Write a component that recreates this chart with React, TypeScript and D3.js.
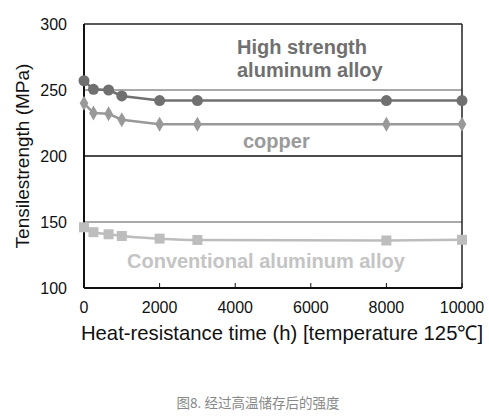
import React from 'react';
import * as d3 from 'd3';

// hours of heat exposure
const hours = [0, 250, 650, 1000, 2000, 3000, 8000, 10000];
// tensile strength (MPa)
const highStrength = [257, 250.5, 250, 245.5, 242, 242, 242, 242];
const copper = [240, 232.5, 232, 227.5, 224, 224, 224, 224];
const conventional = [146, 142.3, 140.7, 139.4, 137.4, 136.4, 136, 136.5];

const xTicks = [0, 2000, 4000, 6000, 8000, 10000];
const yTicks = [100, 150, 200, 250, 300];

const W = 489;
const H = 420;
const margin = { top: 24, right: 27, bottom: 132, left: 84 };
const font = '"Liberation Sans", Arial, sans-serif';

export default function App() {
  const x = d3.scaleLinear().domain([0, 10000]).range([margin.left, W - margin.right]);
  const y = d3.scaleLinear().domain([100, 300]).range([H - margin.bottom, margin.top]);

  const line = d3.line<[number, number]>().x(d => x(d[0])).y(d => y(d[1]));
  const smooth = d3.line<[number, number]>().x(d => x(d[0])).y(d => y(d[1])).curve(d3.curveMonotoneX);

  const pts = (vals: number[]) => hours.map((h, i) => [h, vals[i]] as [number, number]);
  const diamond = d3.symbol(d3.symbolDiamond, 65)();

  const x0 = x(0), x1 = x(10000), yb = y(100), yt = y(300);

  return (
    <svg width={W} height={H} style={{ position: 'absolute', left: 0, top: 0 }}>
      <rect width={W} height={H} fill="#fff" />

      {/* grid lines */}
      <line x1={x0} x2={x1} y1={y(250)} y2={y(250)} stroke="#555" strokeWidth={1} />
      <line x1={x0} x2={x1} y1={y(200)} y2={y(200)} stroke="#111" strokeWidth={1.3} />
      <line x1={x0} x2={x1} y1={y(150)} y2={y(150)} stroke="#555" strokeWidth={1} />
      {/* frame */}
      <line x1={x0} x2={x1} y1={yt} y2={yt} stroke="#222" strokeWidth={1.5} />
      <line x1={x1} x2={x1} y1={yt} y2={yb} stroke="#222" strokeWidth={1.5} />
      <line x1={x0} x2={x1} y1={yb} y2={yb} stroke="#111" strokeWidth={2} />
      <line x1={x0} x2={x0} y1={yt} y2={yb} stroke="#111" strokeWidth={2} />

      {/* x ticks */}
      {xTicks.map(t => (
        <g key={t}>
          <line x1={x(t)} x2={x(t)} y1={yb} y2={yb - 5} stroke="#111" strokeWidth={1} />
          <text x={x(t)} y={yb + 25} textAnchor="middle" fontFamily={font} fontSize={16} fill="#111">{t}</text>
        </g>
      ))}
      {yTicks.map(t => (
        <text key={t} x={x0 - 17} y={y(t) + 6} textAnchor="end" fontFamily={font} fontSize={16} fill="#111">{t}</text>
      ))}

      {/* series */}
      <path d={smooth(pts(conventional)) || ''} fill="none" stroke="#bdbdbd" strokeWidth={2.5} />
      {pts(conventional).map((p, i) => (
        <rect key={i} x={x(p[0]) - 5} y={y(p[1]) - 5} width={10} height={10} fill="#bdbdbd" />
      ))}

      <path d={line(pts(copper)) || ''} fill="none" stroke="#999" strokeWidth={2.5} />
      {pts(copper).map((p, i) => (
        <path key={i} d={diamond || ''} transform={`translate(${x(p[0])},${y(p[1])})`} fill="#999" />
      ))}

      <path d={line(pts(highStrength)) || ''} fill="none" stroke="#707070" strokeWidth={2.5} />
      {pts(highStrength).map((p, i) => (
        <circle key={i} cx={x(p[0])} cy={y(p[1])} r={5.5} fill="#707070" />
      ))}

      {/* series labels */}
      <text x={237} y={54} fontFamily={font} fontSize={20} fontWeight="bold" fill="#707070">High strength</text>
      <text x={237} y={77} fontFamily={font} fontSize={20} fontWeight="bold" fill="#707070">aluminum alloy</text>
      <text x={243} y={148} fontFamily={font} fontSize={20} fontWeight="bold" fill="#9a9a9a">copper</text>
      <text x={127} y={268} fontFamily={font} fontSize={20} fontWeight="bold" fill="#c4c4c4">Conventional aluminum alloy</text>

      {/* axis titles */}
      <text transform={`translate(29,${(yt + yb) / 2}) rotate(-90)`} textAnchor="middle" fontFamily={font} fontSize={19} fill="#111">Tensilestrength (MPa)</text>
      <text x={282} y={340} textAnchor="middle" fontFamily={font} fontSize={20.3} fill="#111">Heat-resistance time (h) [temperature 125℃]</text>

      {/* caption */}
      <text x={258} y={408} textAnchor="middle" fontFamily={'"Noto Sans CJK SC", sans-serif'} fontSize={13.5} fill="#888">图8. 经过高温储存后的强度</text>
    </svg>
  );
}
